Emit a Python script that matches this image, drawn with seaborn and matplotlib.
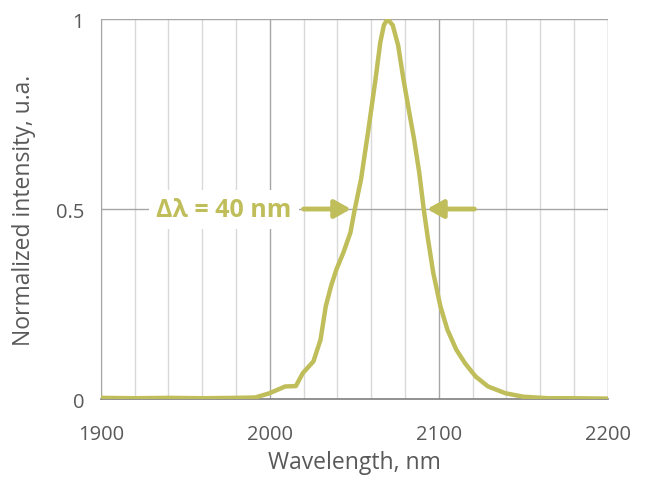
import pandas as pd
import matplotlib.pyplot as plt
import seaborn as sns

# Spectrum
wavelength = [1900, 1920, 1940, 1960, 1980, 1991.4, 1999.7, 2009.1, 2015.4, 2019.5,
              2025.8, 2030, 2033.1, 2036.2, 2039.4, 2043.5, 2047.7, 2050.2, 2054,
              2058.1, 2062.3, 2065.4, 2067.5, 2069.6, 2072.7, 2075.9, 2079, 2082.1,
              2085.3, 2088.4, 2091.1, 2093.6, 2096.7, 2100.9, 2105.1, 2110.3, 2115.5,
              2121.8, 2129.1, 2139.5, 2150, 2164.5, 2180, 2200]
intensity = [0.003, 0.002, 0.003, 0.002, 0.003, 0.004, 0.015, 0.033, 0.034, 0.068,
             0.099, 0.156, 0.244, 0.297, 0.341, 0.385, 0.438, 0.498, 0.579,
             0.702, 0.834, 0.94, 0.984, 1.0, 0.984, 0.931, 0.843, 0.764,
             0.685, 0.596, 0.498, 0.42, 0.332, 0.244, 0.182, 0.13, 0.094,
             0.059, 0.033, 0.015, 0.006, 0.002, 0.002, 0.001]

x_ticks = [1900, 2000, 2100, 2200]
y_ticks = [0, 0.5, 1]
y_labels = ['0', '0.5', '1']
fwhm_left = 2050
fwhm_right = 2091

df = pd.DataFrame({'Wavelength': wavelength, 'Intensity': intensity})

sns.set_style('white')
plt.rcParams['font.family'] = ['Open Sans', 'DejaVu Sans']

color = '#BFBE5A'
grey = '#595959'

fig = plt.figure(figsize=(6.46, 4.89), dpi=100)
ax = fig.add_axes([0.156, 0.182, 0.785, 0.777])

# grid
for x in range(1900, 2201, 20):
    major = x % 100 == 0
    ax.axvline(x, color='#A6A6A6' if major else '#D9D9D9', lw=1.0, zorder=0)
for y in [0.5, 1]:
    ax.axhline(y, color='#A6A6A6', lw=1.0, zorder=0)

sns.lineplot(data=df, x='Wavelength', y='Intensity', color=color, lw=3.2, ax=ax, zorder=3)

ax.set_xlim(1900, 2200)
ax.set_ylim(0, 1)
ax.set_xticks(x_ticks)
ax.set_yticks(y_ticks)
ax.set_yticklabels(y_labels)
ax.tick_params(length=0, labelsize=14.5, labelcolor=grey)
ax.tick_params(axis='x', pad=18)
ax.tick_params(axis='y', pad=12)
ax.set_xlabel('Wavelength, nm', fontsize=16.5, color=grey, labelpad=4)
ax.set_ylabel('Normalized intensity, u.a.', fontsize=16.5, color=grey, labelpad=14)

for s in ['top', 'right']:
    ax.spines[s].set_visible(False)
ax.spines['left'].set_color('#A6A6A6')
ax.spines['bottom'].set_color('#7F7F7F')
ax.spines['bottom'].set_linewidth(1.2)
for s in ['left', 'bottom']:
    ax.spines[s].set_zorder(1)

# FWHM annotation
arrow = dict(arrowstyle='-|>,head_length=0.8,head_width=0.45', color=color, lw=3.5,
             shrinkA=0, shrinkB=0, mutation_scale=12)
ax.annotate('', xy=(fwhm_left - 2, 0.5), xytext=(fwhm_left - 30, 0.5), arrowprops=arrow, zorder=4)
ax.annotate('', xy=(fwhm_right + 2, 0.5), xytext=(fwhm_right + 30, 0.5), arrowprops=arrow, zorder=4)
ax.text(1973, 0.5, 'Δλ = 40 nm', fontsize=18, fontweight='bold', color=color,
        ha='center', va='center', zorder=4,
        bbox=dict(facecolor='white', edgecolor='none', pad=5))

fig.savefig('out.png', dpi=100)
